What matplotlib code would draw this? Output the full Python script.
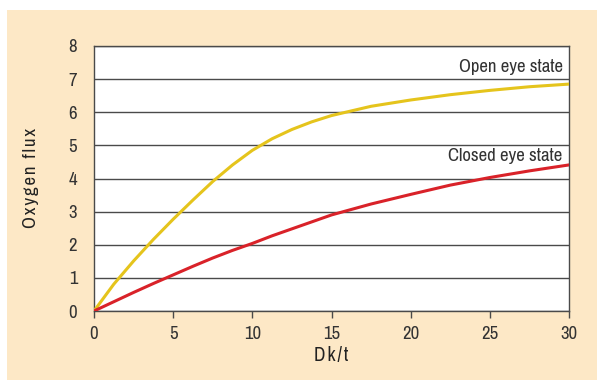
import matplotlib.pyplot as plt
from matplotlib.patches import Rectangle

plt.rcParams.update({
    "font.family": ["Archivo Narrow", "DejaVu Sans"],
    "font.size": 13,
})

# valores
dk_t = [0, 1.25, 2.5, 3.75, 5, 6.25, 7.5, 8.75, 10, 11.25, 12.5, 13.75, 15,
        17.5, 20, 22.5, 25, 27.5, 30]
open_eye = [0, 0.81, 1.51, 2.16, 2.77, 3.35, 3.91, 4.41, 4.85, 5.2, 5.48, 5.71, 5.9,
            6.18, 6.37, 6.53, 6.66, 6.77, 6.85]
closed_eye = [0, 0.28, 0.56, 0.83, 1.09, 1.35, 1.6, 1.83, 2.04, 2.27, 2.48, 2.69, 2.9,
              3.23, 3.52, 3.8, 4.03, 4.23, 4.41]
y_ticks = [0, 1, 2, 3, 4, 5, 6, 7, 8]
x_ticks = [0, 5, 10, 15, 20, 25, 30]


def spaced(s):
    # espaciado entre letras como en el original
    return '\u200a'.join(s)


fig = plt.figure(figsize=(5.97, 3.80), dpi=100, facecolor='white')
fig.patches.append(Rectangle((7 / 597, 0), 1 - 7 / 597, 370 / 380,
                             transform=fig.transFigure, facecolor='#fde8c6',
                             edgecolor='none', zorder=-10))

ax = fig.add_axes([94 / 597, 69 / 380, 475 / 597, 265 / 380], zorder=5)
ax.set_facecolor('white')

ax.plot(dk_t, open_eye, color='#e5c41c', lw=2.2, zorder=3)
ax.plot(dk_t, closed_eye, color='#d92229', lw=2.2, zorder=3)

ax.set_xlim(0, 30)
ax.set_ylim(0, 8)
ax.set_xticks(x_ticks)
ax.set_yticks(y_ticks)
ax.grid(axis='y', color='#4a4a4a', lw=1)
ax.set_axisbelow(True)

for s in ax.spines.values():
    s.set_color('#4a4a4a')
    s.set_linewidth(1)

ax.tick_params(axis='y', length=0, pad=12, labelsize=13.5, labelcolor='#333333')
ax.tick_params(axis='x', length=5, width=1, color='#4a4a4a', pad=6,
               labelsize=13.5, labelcolor='#333333')

ax.text(29.6, 7.12, 'Open eye state', ha='right', va='bottom',
        fontsize=13.5, color='#333333')
ax.text(29.6, 4.45, 'Closed eye state', ha='right', va='bottom',
        fontsize=13.5, color='#333333')

fig.text(331 / 597, 1 - 356 / 380, spaced('Dk/t'), ha='center', va='center',
         fontsize=14, color='#222222')
fig.text(31 / 597, 1 - 178 / 380, spaced('Oxygen flux'), ha='center', va='center',
         rotation=90, fontsize=13.5, color='#222222')

plt.savefig('out.png', dpi=100, facecolor=fig.get_facecolor())
